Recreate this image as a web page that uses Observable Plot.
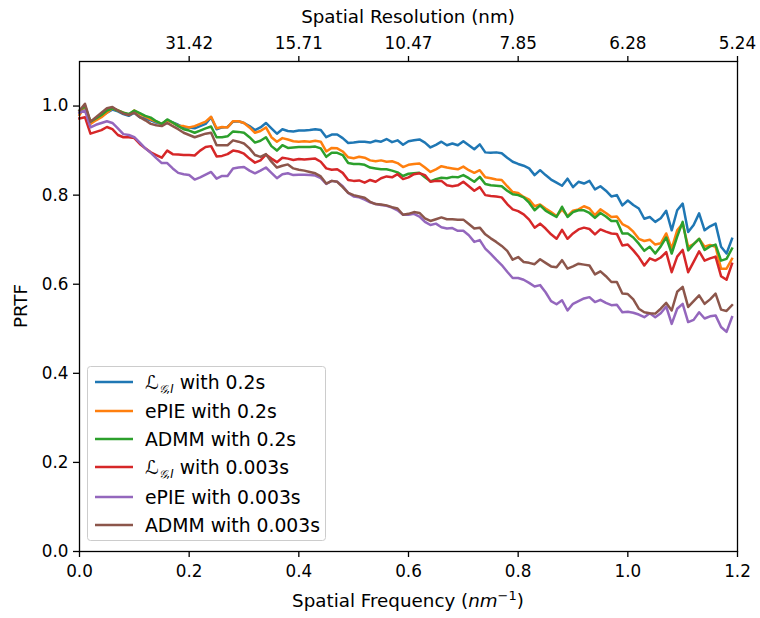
<!DOCTYPE html>
<html>
<head>
<meta charset="utf-8">
<script src="https://cdn.jsdelivr.net/npm/d3@7"></script>
<script src="https://cdn.jsdelivr.net/npm/@observablehq/plot@0.6"></script>
<style>
  html, body { margin: 0; padding: 0; background: white; }
  #chart { width: 760px; height: 618px; }
</style>
</head>
<body>
<div id="chart"></div>
<script>
// Sampled spatial frequencies (nm^-1): 0.00 ... 1.19, step 0.01
const frequency = d3.range(120).map(i => i / 100);

const seriesNames = [
  "LGI with 0.2s", "ePIE with 0.2s", "ADMM with 0.2s",
  "LGI with 0.003s", "ePIE with 0.003s", "ADMM with 0.003s"
];
const seriesColors = ["#1f77b4", "#ff7f0e", "#2ca02c", "#d62728", "#9467bd", "#8c564b"];

const lgi02 = [
0.985,1.0,0.962,0.97,0.978,0.985,0.992,0.988,0.982,0.978,
0.985,0.975,0.972,0.968,0.963,0.96,0.968,0.963,0.958,0.952,
0.952,0.95,0.955,0.96,0.975,0.948,0.952,0.953,0.965,0.966,
0.962,0.955,0.946,0.952,0.962,0.95,0.938,0.948,0.944,0.943,
0.945,0.945,0.946,0.948,0.946,0.93,0.936,0.936,0.928,0.917,
0.918,0.92,0.92,0.918,0.922,0.92,0.926,0.919,0.923,0.913,
0.921,0.923,0.925,0.918,0.907,0.913,0.92,0.912,0.916,0.912,
0.921,0.912,0.903,0.914,0.896,0.895,0.896,0.894,0.884,0.875,
0.87,0.866,0.86,0.845,0.856,0.845,0.835,0.828,0.821,0.837,
0.818,0.83,0.826,0.832,0.813,0.82,0.81,0.797,0.8,0.777,
0.788,0.778,0.77,0.747,0.751,0.74,0.748,0.765,0.721,0.766,
0.781,0.717,0.733,0.759,0.721,0.73,0.736,0.684,0.669,0.702];

const epie02 = [
0.98,1.0,0.96,0.968,0.975,0.985,0.995,0.99,0.985,0.98,
0.99,0.982,0.976,0.97,0.965,0.96,0.968,0.962,0.956,0.955,
0.952,0.955,0.96,0.965,0.976,0.95,0.953,0.952,0.966,0.966,
0.962,0.952,0.94,0.944,0.952,0.93,0.92,0.928,0.925,0.921,
0.92,0.921,0.92,0.922,0.92,0.898,0.906,0.905,0.898,0.885,
0.883,0.886,0.884,0.878,0.876,0.878,0.875,0.876,0.872,0.863,
0.868,0.87,0.871,0.862,0.852,0.858,0.865,0.862,0.86,0.858,
0.864,0.856,0.85,0.856,0.84,0.838,0.835,0.834,0.82,0.807,
0.805,0.796,0.79,0.775,0.779,0.77,0.762,0.753,0.768,0.753,
0.765,0.768,0.775,0.77,0.755,0.768,0.76,0.751,0.752,0.735,
0.729,0.718,0.702,0.697,0.7,0.689,0.692,0.714,0.68,0.721,
0.736,0.684,0.69,0.702,0.684,0.688,0.684,0.635,0.635,0.657];

const admm02 = [
0.99,1.0,0.965,0.972,0.98,0.99,0.995,0.99,0.985,0.982,
0.99,0.984,0.978,0.974,0.966,0.96,0.97,0.963,0.955,0.948,
0.945,0.94,0.945,0.95,0.954,0.93,0.93,0.932,0.943,0.942,
0.94,0.93,0.918,0.922,0.93,0.91,0.9,0.912,0.906,0.907,
0.908,0.908,0.908,0.909,0.905,0.886,0.895,0.895,0.89,0.872,
0.87,0.87,0.868,0.862,0.86,0.858,0.858,0.855,0.851,0.843,
0.848,0.849,0.85,0.84,0.831,0.836,0.839,0.838,0.841,0.84,
0.845,0.838,0.83,0.841,0.825,0.822,0.821,0.82,0.81,0.802,
0.8,0.795,0.783,0.766,0.777,0.765,0.758,0.751,0.774,0.751,
0.762,0.766,0.766,0.76,0.749,0.76,0.752,0.742,0.742,0.714,
0.714,0.705,0.691,0.675,0.684,0.669,0.685,0.705,0.669,0.707,
0.74,0.676,0.69,0.702,0.677,0.685,0.689,0.653,0.657,0.68];

const lgi0003 = [
0.972,0.975,0.938,0.942,0.946,0.953,0.948,0.935,0.93,0.93,
0.928,0.915,0.905,0.896,0.89,0.884,0.9,0.892,0.891,0.89,
0.89,0.889,0.9,0.908,0.91,0.887,0.888,0.892,0.9,0.898,
0.893,0.882,0.873,0.878,0.891,0.882,0.874,0.884,0.882,0.879,
0.881,0.88,0.881,0.882,0.875,0.86,0.857,0.858,0.85,0.834,
0.832,0.833,0.828,0.834,0.83,0.838,0.842,0.84,0.847,0.836,
0.84,0.847,0.849,0.845,0.83,0.832,0.832,0.822,0.82,0.822,
0.83,0.82,0.81,0.818,0.8,0.798,0.797,0.795,0.78,0.768,
0.764,0.757,0.745,0.727,0.736,0.725,0.712,0.702,0.722,0.702,
0.714,0.723,0.727,0.724,0.712,0.723,0.718,0.714,0.713,0.687,
0.689,0.676,0.661,0.642,0.658,0.653,0.66,0.672,0.627,0.662,
0.677,0.627,0.65,0.674,0.653,0.658,0.662,0.618,0.61,0.646];

const epie0003 = [
0.985,0.99,0.952,0.958,0.962,0.966,0.962,0.95,0.937,0.935,
0.93,0.918,0.905,0.895,0.883,0.872,0.872,0.86,0.85,0.847,
0.845,0.835,0.84,0.846,0.852,0.837,0.843,0.843,0.86,0.862,
0.863,0.855,0.849,0.855,0.862,0.85,0.838,0.847,0.849,0.845,
0.846,0.846,0.845,0.844,0.838,0.825,0.832,0.83,0.82,0.805,
0.797,0.795,0.79,0.784,0.78,0.778,0.776,0.772,0.766,0.756,
0.756,0.758,0.752,0.74,0.733,0.736,0.728,0.725,0.726,0.72,
0.72,0.71,0.695,0.699,0.68,0.668,0.655,0.643,0.628,0.614,
0.614,0.61,0.603,0.595,0.598,0.582,0.562,0.555,0.564,0.541,
0.556,0.562,0.568,0.571,0.56,0.565,0.558,0.553,0.554,0.537,
0.538,0.536,0.532,0.526,0.535,0.526,0.535,0.55,0.511,0.545,
0.556,0.515,0.52,0.537,0.523,0.528,0.53,0.504,0.493,0.526];

const admm0003 = [
0.99,1.005,0.965,0.975,0.985,0.995,0.998,0.99,0.983,0.98,
0.985,0.975,0.968,0.96,0.957,0.955,0.962,0.955,0.948,0.94,
0.935,0.93,0.934,0.938,0.94,0.912,0.912,0.912,0.923,0.92,
0.916,0.905,0.89,0.886,0.892,0.875,0.862,0.866,0.869,0.86,
0.857,0.855,0.852,0.849,0.842,0.826,0.832,0.83,0.818,0.805,
0.8,0.797,0.794,0.785,0.78,0.779,0.777,0.773,0.77,0.756,
0.758,0.762,0.76,0.748,0.742,0.746,0.75,0.746,0.746,0.745,
0.745,0.735,0.725,0.727,0.712,0.703,0.695,0.686,0.675,0.655,
0.661,0.65,0.648,0.645,0.656,0.648,0.64,0.638,0.654,0.635,
0.64,0.646,0.644,0.642,0.622,0.629,0.618,0.605,0.605,0.579,
0.578,0.566,0.545,0.537,0.535,0.534,0.545,0.558,0.541,0.583,
0.594,0.549,0.562,0.575,0.556,0.566,0.579,0.543,0.54,0.553];

const xTicks = [0, 0.2, 0.4, 0.6, 0.8, 1.0, 1.2];
const yTicks = [0, 0.2, 0.4, 0.6, 0.8, 1.0];
const topTickPositions = [0.2, 0.4, 0.6, 0.8, 1.0, 1.2];
const topTickLabels = ["31.42", "15.71", "10.47", "7.85", "6.28", "5.24"];

const seriesValues = [lgi02, epie02, admm02, lgi0003, epie0003, admm0003];
const rows = [];
seriesValues.forEach((vals, s) => {
  vals.forEach((v, i) => rows.push({series: seriesNames[s], f: frequency[i], prtf: v}));
});

const font = "DejaVu Sans, sans-serif";
const tickFs = 16.8;
const labelFs = 18.3;
const legendFs = 18.8;

const lineMarks = seriesNames.map((name, s) =>
  Plot.line(rows.filter(r => r.series === name), {
    x: "f", y: "prtf", stroke: seriesColors[s], strokeWidth: 2.5,
    strokeLinejoin: "round", strokeLinecap: "square"
  })
);

const chart = Plot.plot({
  width: 760,
  height: 618,
  marginLeft: 79,
  marginRight: 23,
  marginTop: 61,
  marginBottom: 67,
  style: {fontFamily: font, fontSize: tickFs + "px", color: "black", background: "white", overflow: "visible"},
  x: {domain: [0, 1.2]},
  y: {domain: [0, 1.1]},
  marks: [
    ...lineMarks,
    Plot.axisX({anchor: "bottom", ticks: xTicks, tickFormat: d3.format(".1f"), tickSize: 6, tickPadding: 8, fontSize: tickFs, label: null, strokeWidth: 1.3}),
    Plot.axisX({anchor: "top", ticks: topTickPositions, tickFormat: (d, i) => topTickLabels[i], tickSize: 6, tickPadding: 7, fontSize: tickFs, label: null, strokeWidth: 1.3}),
    Plot.axisY({anchor: "left", ticks: yTicks, tickFormat: d3.format(".1f"), tickSize: 6, tickPadding: 5, fontSize: tickFs, label: null, strokeWidth: 1.3}),
    Plot.frame({stroke: "black", strokeWidth: 1.3})
  ]
});

document.getElementById("chart").appendChild(chart);

const svg = d3.select(chart);

// Top axis title
svg.append("text")
  .attr("x", 408).attr("y", 23)
  .attr("text-anchor", "middle")
  .attr("font-family", font).attr("font-size", labelFs).attr("fill", "black")
  .text("Spatial Resolution (nm)");

// Y axis title
svg.append("text")
  .attr("transform", "translate(27,306) rotate(-90)")
  .attr("text-anchor", "middle")
  .attr("font-family", font).attr("font-size", labelFs).attr("fill", "black")
  .text("PRTF");

// Bottom axis label with italic unit and superscript
const xl = svg.append("text")
  .attr("x", 408)
  .attr("y", 607)
  .attr("text-anchor", "middle")
  .attr("font-family", font)
  .attr("font-size", labelFs)
  .attr("fill", "black");
xl.append("tspan").text("Spatial Frequency (");
xl.append("tspan").attr("font-style", "italic").text("nm");
xl.append("tspan").attr("font-size", 13).attr("dy", -7).text("\u22121");
xl.append("tspan").attr("dy", 7).text(")");

// Legend
const lg = svg.append("g").attr("font-family", font).attr("font-size", legendFs).attr("text-anchor", "start");
lg.append("rect")
  .attr("x", 87.5).attr("y", 366.5).attr("width", 238).attr("height", 174)
  .attr("rx", 3).attr("fill", "white").attr("fill-opacity", 0.8)
  .attr("stroke", "#cccccc").attr("stroke-width", 1);
const rowY = [382, 411, 439, 467, 497, 525];
const isLGI = [true, false, false, true, false, false];
const rest = ["with 0.2s", "ePIE with 0.2s", "ADMM with 0.2s", "with 0.003s", "ePIE with 0.003s", "ADMM with 0.003s"];
rowY.forEach((y, k) => {
  lg.append("line").attr("x1", 95).attr("x2", 133).attr("y1", y).attr("y2", y)
    .attr("stroke", seriesColors[k]).attr("stroke-width", 2.5);
  const t = lg.append("text").attr("x", 145).attr("y", y + 6.5).attr("fill", "black").attr("text-anchor", "start");
  if (isLGI[k]) {
    t.append("tspan").attr("font-style", "italic").attr("font-size", 19).text("\u2112");
    t.append("tspan").attr("font-size", 11.5).attr("dy", 4).attr("font-style", "italic").text("\uD835\uDCA2,I");
    t.append("tspan").attr("dy", -4).text(" " + rest[k]);
  } else {
    t.text(rest[k]);
  }
});
</script>
</body>
</html>
